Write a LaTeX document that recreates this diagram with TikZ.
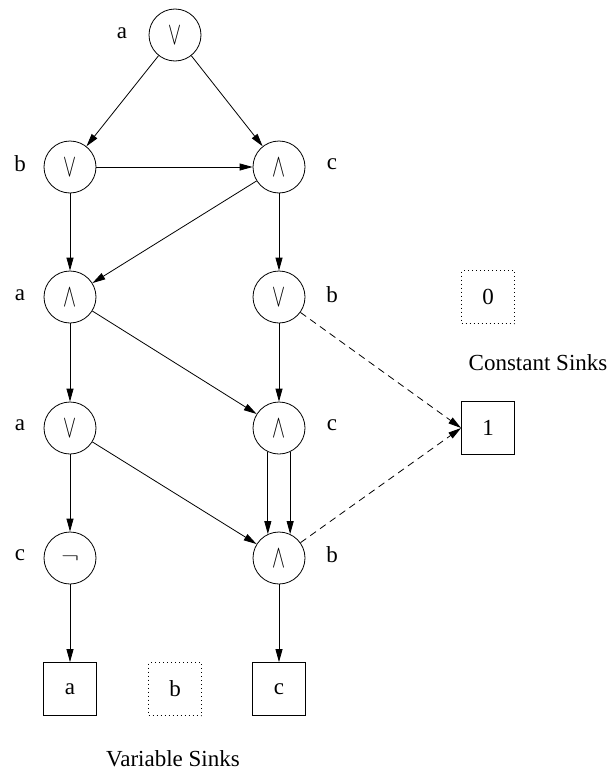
\documentclass[tikz,border=0pt]{standalone}
\usepackage{fontspec}
\setmainfont{Liberation Serif}
\usetikzlibrary{arrows.meta}
\newcommand{\gor}{\resizebox{13pt}{18pt}{$\vee$}}
\newcommand{\gand}{\resizebox{13pt}{18pt}{$\wedge$}}
\newcommand{\gnot}{\resizebox{18pt}{8pt}{$\neg$}}
\begin{document}
\begin{tikzpicture}[x=1pt,y=-1pt,
  font=\fontsize{23}{26}\selectfont,
  gate/.style={circle,draw,line width=0.8pt,minimum size=52pt,inner sep=0pt},
  sinkbox/.style={rectangle,draw,line width=0.8pt,minimum size=53pt,inner sep=0pt},
  dotbox/.style={rectangle,draw,line width=0.8pt,minimum size=53pt,inner sep=0pt,dash pattern=on 1pt off 3pt},
  lab/.style={inner sep=0pt},
  edge/.style={line width=0.8pt,-{Triangle[length=13pt,width=7pt]}},
  dedge/.style={edge,dash pattern=on 7pt off 5pt}]
\useasboundingbox (0,0) rectangle (610,771);
% gates
\node[gate] (g1) at (175,35) {\gor};
\node[gate] (g2) at (70,167) {\gor};
\node[gate] (g3) at (279,167) {\gand};
\node[gate] (g4) at (70,297) {\gand};
\node[gate] (g5) at (279,297) {\gor};
\node[gate] (g6) at (70,428) {\gor};
\node[gate] (g7) at (279,428) {\gand};
\node[gate] (g8) at (70,558) {\gnot};
\node[gate] (g9) at (279,558) {\gand};
% labels
\node[lab] (l1) at (122,33) {a};
\node[lab] (l2) at (20,164) {b};
\node[lab] (l3) at (332,164) {c};
\node[lab] (l4) at (20,295) {a};
\node[lab] (l5) at (332,295) {b};
\node[lab] (l6) at (20,425) {a};
\node[lab] (l7) at (332,425) {c};
\node[lab] (l8) at (20,555) {c};
\node[lab] (l9) at (332,555) {b};
% sinks
\node[sinkbox] (sa) at (70,689) {a};
\node[dotbox] (sb) at (175,689) {b};
\node[sinkbox] (sc) at (279,689) {c};
\node[dotbox] (s0) at (488,297) {0};
\node[sinkbox] (s1) at (488,428) {1};
\node[lab] (cs) at (538,363) {Constant Sinks};
\node[lab,anchor=base,text depth=0pt] (vs) at (173,766) {Variable Sinks};
% edges
\draw[edge] (g1) -- (g2);
\draw[edge] (g1) -- (g3);
\draw[edge] (g2) -- (g3);
\draw[edge] (g2) -- (g4);
\draw[edge] (g3) -- (g4);
\draw[edge] (g3) -- (g5);
\draw[edge] (g4) -- (g6);
\draw[edge] (g4) -- (g7);
\draw[edge] (g5) -- (g7);
\draw[edge] (g6) -- (g8);
\draw[edge] (g6) -- (g9);
\draw[edge] (g7.245) -- (g9.115);
\draw[edge] (g7.295) -- (g9.65);
\draw[edge] (g8) -- (sa);
\draw[edge] (g9) -- (sc);
\draw[dedge] (g5) -- (s1.west);
\draw[dedge] (g9) -- (s1.west);
\end{tikzpicture}
\end{document}
